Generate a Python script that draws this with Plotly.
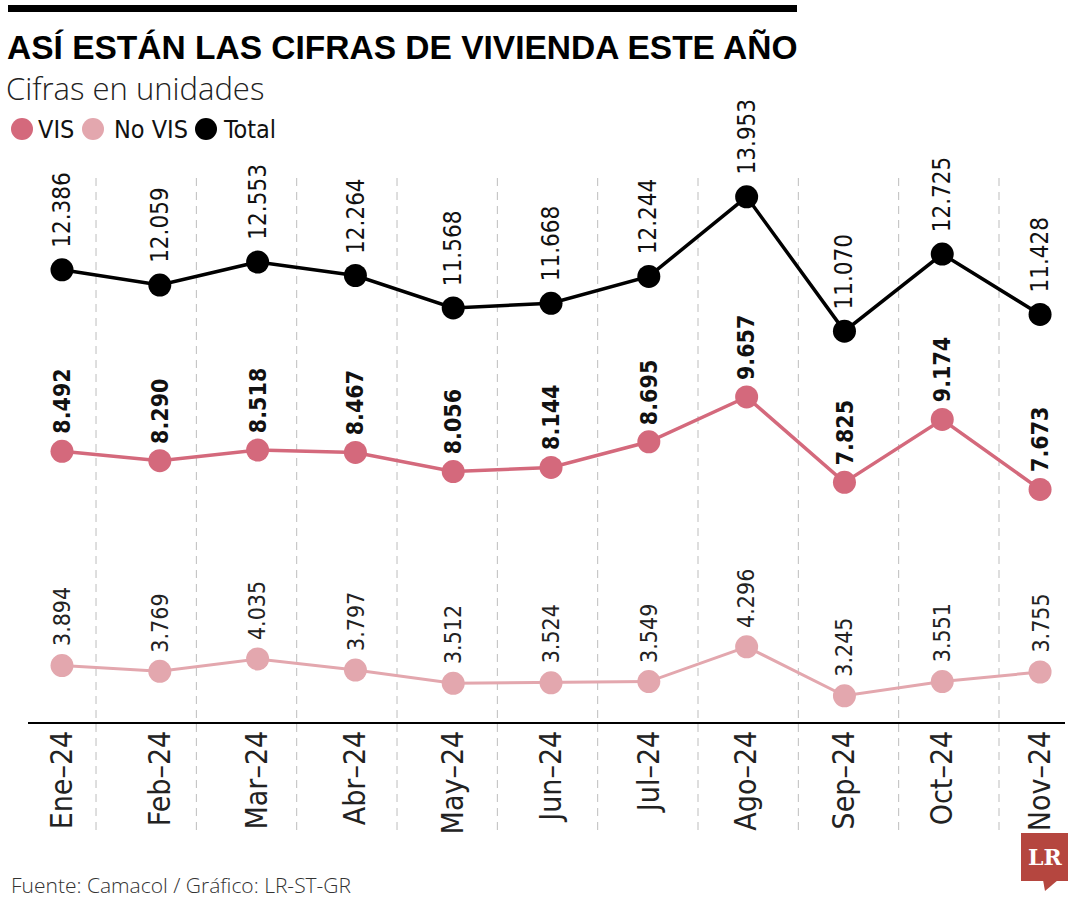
import plotly.graph_objects as go

months = ["Ene–24", "Feb–24", "Mar–24", "Abr–24", "May–24", "Jun–24",
          "Jul–24", "Ago–24", "Sep–24", "Oct–24", "Nov–24"]
vis = [8492, 8290, 8518, 8467, 8056, 8144, 8695, 9657, 7825, 9174, 7673]
no_vis = [3894, 3769, 4035, 3797, 3512, 3524, 3549, 4296, 3245, 3551, 3755]
total = [12386, 12059, 12553, 12264, 11568, 11668, 12244, 13953, 11070, 12725, 11428]

series_names = ["VIS", "No VIS", "Total"]
colors = {"VIS": "#d4697c", "No VIS": "#e3a7ae", "Total": "#000000"}

W, H = 1080, 900
L, R, T, B = 28, 15, 140, 178
PW, PH = W - L - R, H - T - B

def px(xp):
    return (xp - L) / PW

def py(yp):
    return (H - B - yp) / PH

NARROW = "Liberation Sans Narrow, DejaVu Sans Condensed, sans-serif"

def fmt(v):
    return f"{v:,}".replace(",", ".")

fig = go.Figure()
for name, vals, lw in [("No VIS", no_vis, 3), ("VIS", vis, 3.5), ("Total", total, 3.5)]:
    fig.add_trace(go.Scatter(
        x=months, y=vals, mode="lines+markers", name=name,
        line=dict(color=colors[name], width=lw),
        marker=dict(size=23, color=colors[name]),
        showlegend=False, cliponaxis=False, hoverinfo="skip"))

annotations = []
label_style = {
    "Total": dict(family=NARROW, size=24, color="#111"),
    "VIS": dict(family=NARROW, size=23, color="#111", weight="bold"),
    "No VIS": dict(family=NARROW, size=23, color="#222"),
}
shifts = {"Total": 20, "VIS": 15, "No VIS": 17}
for name, vals in [("Total", total), ("VIS", vis), ("No VIS", no_vis)]:
    for m, v in zip(months, vals):
        annotations.append(dict(
            x=m, y=v, xref="x", yref="y", text=fmt(v), textangle=-90,
            showarrow=False, xanchor="center", yanchor="bottom", yshift=shifts[name],
            font=label_style[name]))

# title, subtitle, footer
annotations.append(dict(x=px(5), y=py(48), xref="paper", yref="paper", xanchor="left", yanchor="middle",
                        text="<b>ASÍ ESTÁN LAS CIFRAS DE VIVIENDA ESTE AÑO</b>", showarrow=False,
                        font=dict(family="Liberation Sans, Arial, sans-serif", size=33.5, color="#000")))
annotations.append(dict(x=px(4), y=py(88), xref="paper", yref="paper", xanchor="left", yanchor="middle",
                        text="Cifras en unidades", showarrow=False,
                        font=dict(family="Open Sans, sans-serif", size=31, color="#222", weight=300)))
annotations.append(dict(x=px(9), y=py(885), xref="paper", yref="paper", xanchor="left", yanchor="middle",
                        text="Fuente: Camacol / Gráfico: LR-ST-GR", showarrow=False,
                        font=dict(family="Open Sans, sans-serif", size=21, color="#333", weight=300)))

shapes = []
# top bar
shapes.append(dict(type="rect", xref="paper", yref="paper", x0=px(8), x1=px(797), y0=py(5), y1=py(12),
                   fillcolor="#000", line=dict(width=0)))

# manual legend
legend_pos = {"VIS": (22, 36), "No VIS": (93, 112), "Total": (206, 221)}
for name in series_names:
    cx, tx = legend_pos[name]
    cy = 129
    r = 11
    shapes.append(dict(type="circle", xref="paper", yref="paper",
                       x0=px(cx - r), x1=px(cx + r), y0=py(cy - r), y1=py(cy + r),
                       fillcolor=colors[name], line=dict(width=0)))
    annotations.append(dict(x=px(tx), y=py(cy), xref="paper", yref="paper", xanchor="left",
                            yanchor="middle", text=name, showarrow=False,
                            font=dict(family=NARROW, size=25, color="#111")))

# dashed separators between months
for k in range(1, len(months)):
    gx = 0.348 + 1.0258 * (k - 1)
    shapes.append(dict(type="line", xref="x", yref="paper", x0=gx, x1=gx,
                       y0=py(830), y1=py(175), layer="below",
                       line=dict(color="#bdbdbd", width=1, dash="8px,6px")))

# LR logo
shapes.append(dict(type="rect", xref="paper", yref="paper", x0=px(1021), x1=px(1068),
                   y0=py(881), y1=py(833), fillcolor="#b5463f", line=dict(width=0)))
shapes.append(dict(type="path", xref="paper", yref="paper",
                   path=f"M {px(1043)},{py(880)} L {px(1058)},{py(880)} L {px(1045)},{py(891)} Z",
                   fillcolor="#b5463f", line=dict(width=0)))
annotations.append(dict(x=px(1044.5), y=py(857), xref="paper", yref="paper", xanchor="center",
                        yanchor="middle", text="<b>LR</b>", showarrow=False,
                        font=dict(family="DejaVu Serif, serif", size=22, color="#fff")))

fig.update_layout(
    width=W, height=H, autosize=False,
    margin=dict(l=L, r=R, t=T, b=B),
    paper_bgcolor="#fff", plot_bgcolor="#fff",
    xaxis=dict(type="category", range=[-0.3476, 10.255], showgrid=False, zeroline=False,
               showline=True, linecolor="#000", linewidth=1.5, ticks="",
               tickangle=-90, ticklabelstandoff=-5,
               tickfont=dict(family=NARROW, size=30, color="#222"), fixedrange=True),
    yaxis=dict(range=[2682, 15172], visible=False, showgrid=False, zeroline=False, fixedrange=True),
    shapes=shapes, annotations=annotations,
    showlegend=False,
)

fig.write_html("out.html", config={"displayModeBar": False},
               post_script="document.body.style.margin='0';")
